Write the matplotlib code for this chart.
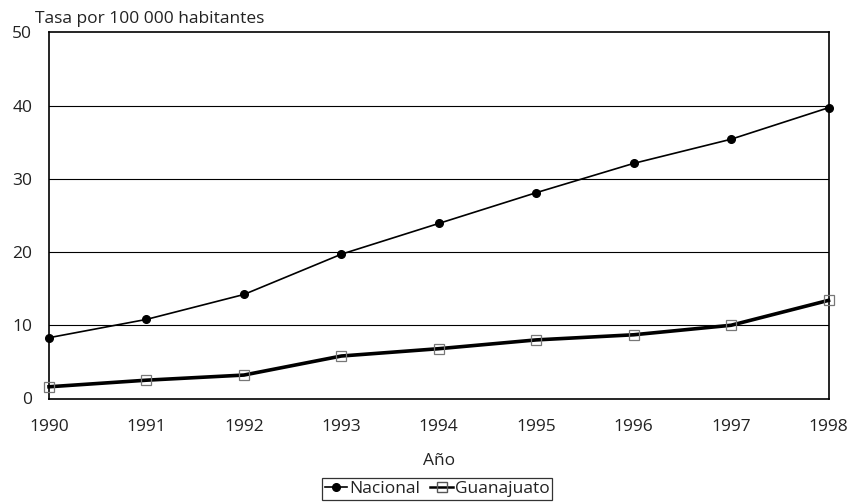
import matplotlib as mpl
import matplotlib.pyplot as plt
import numpy as np

# Values (rate per 100 000 inhabitants)
years = [1990, 1991, 1992, 1993, 1994, 1995, 1996, 1997, 1998]
nacional = [8.3, 10.8, 14.2, 19.7, 23.9, 28.1, 32.1, 35.4, 39.7]
guanajuato = [1.6, 2.5, 3.2, 5.8, 6.8, 8.0, 8.7, 10.0, 13.4]
yticks = [0, 10, 20, 30, 40, 50]

TEXT_COL = "#222222"
FS = 12.5

mpl.rcParams.update({"font.family": ["Open Sans", "DejaVu Sans"]})

fig = plt.figure(figsize=(8.49, 5.03), dpi=100, facecolor="white")
ax = fig.add_axes([49 / 849, 1 - 398.5 / 503, (828.5 - 49) / 849, (398.5 - 32.3) / 503])

for y in yticks[1:-1]:
    ax.axhline(y, color="black", linewidth=0.8, zorder=1)

ax.plot(years, nacional, color="black", linewidth=1.2, marker="o", markersize=5.5,
        label="Nacional", zorder=3, clip_on=False)
ax.plot(years, guanajuato, color="black", linewidth=2.6, zorder=2, clip_on=False)
ax.plot(years, guanajuato, linestyle="none", marker="s", markersize=7,
        markerfacecolor="none", markeredgecolor="#777777", markeredgewidth=0.9,
        zorder=4, clip_on=False)
# legend proxy for Guanajuato
gline, = ax.plot([], [], color="black", linewidth=1.8, marker="s", markersize=7,
                 markerfacecolor="none", markeredgecolor="#555555", label="Guanajuato")

ax.set_xlim(years[0], years[-1])
ax.set_ylim(0, 50)
ax.set_xticks(years)
ax.set_yticks(yticks)
ax.tick_params(length=0, labelsize=FS, colors=TEXT_COL)
ax.tick_params(axis="x", pad=15)
ax.tick_params(axis="y", pad=12)
for s in ax.spines.values():
    s.set_color("black")
    s.set_linewidth(1.2)

fig.text(35 / 849, 1 - 19 / 503, "Tasa por 100 000 habitantes", fontsize=FS,
         color=TEXT_COL, va="center", ha="left")
ax.set_xlabel("Año", fontsize=FS, color=TEXT_COL, labelpad=13)

leg = fig.legend(loc="center", bbox_to_anchor=(437 / 849, 1 - 489 / 503), ncol=2,
                 frameon=True, fancybox=False, fontsize=FS, handlelength=1.3,
                 handletextpad=0.1, columnspacing=0.6, borderpad=0.15,
                 edgecolor="black", labelcolor=TEXT_COL)
leg.get_frame().set_linewidth(0.9)

fig.savefig("out.png", dpi=100, facecolor="white")
